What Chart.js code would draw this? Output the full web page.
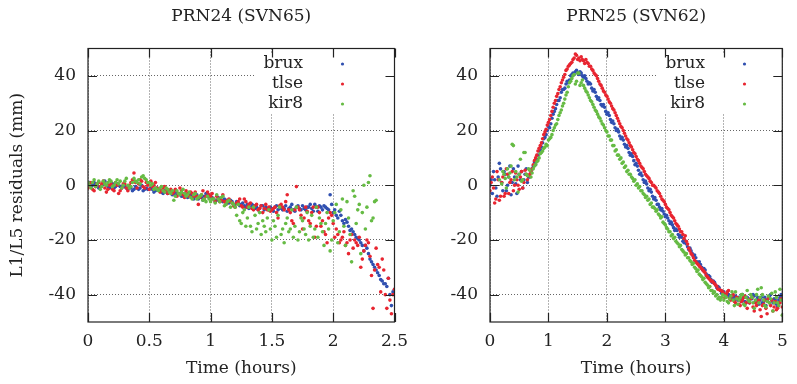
<!DOCTYPE html>
<html>
<head>
<meta charset="utf-8">
<script src="https://cdn.jsdelivr.net/npm/chart.js@4.4.0/dist/chart.umd.min.js"></script>
<style>
  body { margin: 0; background: #fff; }
  #wrap { position: relative; width: 797px; height: 384px; overflow: hidden; }
  canvas { position: absolute; top: 0; }
</style>
</head>
<body>
<div id="wrap">
  <canvas id="prn24" width="420" height="384" style="left:0"></canvas>
  <canvas id="prn25" width="397" height="384" style="left:400px"></canvas>
</div>
<script>
'use strict';

// epochs in hours
const t24 = [
  0,0.0125,0.025,0.0375,0.05,0.0625,0.075,0.0875,0.1,0.1125,
  0.125,0.1375,0.15,0.1625,0.175,0.1875,0.2,0.2125,0.225,0.2375,
  0.25,0.2625,0.275,0.2875,0.3,0.3125,0.325,0.3375,0.35,0.3625,
  0.375,0.3875,0.4,0.4125,0.425,0.4375,0.45,0.4625,0.475,0.4875,
  0.5,0.5125,0.525,0.5375,0.55,0.5625,0.575,0.5875,0.6,0.6125,
  0.625,0.6375,0.65,0.6625,0.675,0.6875,0.7,0.7125,0.725,0.7375,
  0.75,0.7625,0.775,0.7875,0.8,0.8125,0.825,0.8375,0.85,0.8625,
  0.875,0.8875,0.9,0.9125,0.925,0.9375,0.95,0.9625,0.975,0.9875,
  1,1.0125,1.025,1.0375,1.05,1.0625,1.075,1.0875,1.1,1.1125,
  1.125,1.1375,1.15,1.1625,1.175,1.1875,1.2,1.2125,1.225,1.2375,
  1.25,1.2625,1.275,1.2875,1.3,1.3125,1.325,1.3375,1.35,1.3625,
  1.375,1.3875,1.4,1.4125,1.425,1.4375,1.45,1.4625,1.475,1.4875,
  1.5,1.5125,1.525,1.5375,1.55,1.5625,1.575,1.5875,1.6,1.6125,
  1.625,1.6375,1.65,1.6625,1.675,1.6875,1.7,1.7125,1.725,1.7375,
  1.75,1.7625,1.775,1.7875,1.8,1.8125,1.825,1.8375,1.85,1.8625,
  1.875,1.8875,1.9,1.9125,1.925,1.9375,1.95,1.9625,1.975,1.9875,
  2,2.0125,2.025,2.0375,2.05,2.0625,2.075,2.0875,2.1,2.1125,
  2.125,2.1375,2.15,2.1625,2.175,2.1875,2.2,2.2125,2.225,2.2375,
  2.25,2.2625,2.275,2.2875,2.3,2.3125,2.325,2.3375,2.35,2.3625,
  2.375,2.3875,2.4,2.4125,2.425,2.4375,2.45,2.4625,2.475,2.4875,
  2.5
];

const t25 = [
  0,0.02,0.04,0.06,0.08,0.1,0.12,0.14,0.16,0.18,
  0.2,0.22,0.24,0.26,0.28,0.3,0.32,0.34,0.36,0.38,
  0.4,0.42,0.44,0.46,0.48,0.5,0.52,0.54,0.56,0.58,
  0.6,0.62,0.64,0.66,0.68,0.7,0.72,0.74,0.76,0.78,
  0.8,0.82,0.84,0.86,0.88,0.9,0.92,0.94,0.96,0.98,
  1,1.02,1.04,1.06,1.08,1.1,1.12,1.14,1.16,1.18,
  1.2,1.22,1.24,1.26,1.28,1.3,1.32,1.34,1.36,1.38,
  1.4,1.42,1.44,1.46,1.48,1.5,1.52,1.54,1.56,1.58,
  1.6,1.62,1.64,1.66,1.68,1.7,1.72,1.74,1.76,1.78,
  1.8,1.82,1.84,1.86,1.88,1.9,1.92,1.94,1.96,1.98,
  2,2.02,2.04,2.06,2.08,2.1,2.12,2.14,2.16,2.18,
  2.2,2.22,2.24,2.26,2.28,2.3,2.32,2.34,2.36,2.38,
  2.4,2.42,2.44,2.46,2.48,2.5,2.52,2.54,2.56,2.58,
  2.6,2.62,2.64,2.66,2.68,2.7,2.72,2.74,2.76,2.78,
  2.8,2.82,2.84,2.86,2.88,2.9,2.92,2.94,2.96,2.98,
  3,3.02,3.04,3.06,3.08,3.1,3.12,3.14,3.16,3.18,
  3.2,3.22,3.24,3.26,3.28,3.3,3.32,3.34,3.36,3.38,
  3.4,3.42,3.44,3.46,3.48,3.5,3.52,3.54,3.56,3.58,
  3.6,3.62,3.64,3.66,3.68,3.7,3.72,3.74,3.76,3.78,
  3.8,3.82,3.84,3.86,3.88,3.9,3.92,3.94,3.96,3.98,
  4,4.02,4.04,4.06,4.08,4.1,4.12,4.14,4.16,4.18,
  4.2,4.22,4.24,4.26,4.28,4.3,4.32,4.34,4.36,4.38,
  4.4,4.42,4.44,4.46,4.48,4.5,4.52,4.54,4.56,4.58,
  4.6,4.62,4.64,4.66,4.68,4.7,4.72,4.74,4.76,4.78,
  4.8,4.82,4.84,4.86,4.88,4.9,4.92,4.94,4.96,4.98,
  5
];

// L1/L5 residuals in mm, PRN24 (SVN65)
const brux24 = [
  0.5,1,-0.5,0,1,0.5,0,-1,-0.5,0,
  0.5,1.5,0,-0.5,-1,0,0.5,-1,-0.5,0.5,
  0,-0.5,-1,0,-0.5,-1,-1.5,-0.5,-1,-2,
  -1.5,-0.5,-1,-1.5,-1,0,-2,-1.5,-1,-1.5,
  -1.5,-1,-1.5,-2.5,-2,-1,-1.5,-2,-2.5,-3,
  -2,-2.5,-3,-2,-2.5,-3.5,-3,-2.5,-3.5,-3,
  -3,-4,-4,-3,-3.5,-4.5,-4,-3.5,-4.5,-5,
  -4,-3.5,-5,-4.5,-4.5,-5.5,-4,-3,-3,-4.5,
  -4,-4.5,-5,-6,-5.5,-4.5,-5,-5.5,-6,-5,
  -5.5,-6.5,-6.5,-5.5,-6,-7,-7,-6,-6.5,-7.5,
  -7,-6.5,-7.5,-8,-7,-8.5,-8,-7,-7.5,-8.5,
  -8,-9,-8.5,-7.5,-7.5,-9,-8,-8.5,-9,-8,
  -8.5,-9.5,-8,-7.5,-9,-8.5,-8,-9,-8.5,-7.5,
  -9.5,-8.5,-8,-7,-9,-9.5,-8,-7.5,-8.5,-9,
  -7.5,-8.5,-9,-8,-8,-7,-8.5,-9.5,-7,-8,
  -9.5,-7.5,-8,-9,-7.5,-8,-8.5,-9,-3.5,-7,
  -10,-9,-11,-12,-9.5,-11,-13,-14,-12.5,-13.5,
  -15,-16.5,-16,-17,-18,-19,-19.5,-20,-21,-22,
  -24,-22,-23,-25,-27,-28,-29,-30,-31,-32,
  -33,-34.5,-35,-36,-36,-37,-34,-40,-44,-39,
  -38
];
const tlse24 = [
  -1,0,1,-1.5,-2,-0.5,0.5,1,-0.5,0.5,
  1.5,-1,-2.5,-1.5,0,0.5,-1.5,-2,1,0,
  -3,-2,-1,0.5,0.5,-1,-2,0,1,2,
  4.5,1,-1,0.5,2,1.5,-0.5,-1,1,0,
  -1.5,1.5,-0.5,0,1,-1,-1.5,-2.5,-2,-1,
  -0.5,-2,-3,-2.5,-1.5,-3,-2.5,-1.5,-4,-3,
  -1,-2,-3.5,-4.5,-2,-3,-4,-2.5,-3,-4,
  -2.5,-4,-7,-4.5,-3.5,-2,-5,-4,-2.5,-3.5,
  -4,-3,-5,-6,-4,-5,-6,-5.5,-3.5,-6,
  -7,-5.5,-5,-6,-6.5,-7.5,-8,-6.5,-6,-5,
  -7.5,-8,-5,-6,-8,-7,-6.5,-8.5,-9,-7.5,
  -7,-9,-8.5,-7.5,-10,-8.5,-7,-9,-8,-9.5,
  -9,-8.5,-8,-10,-12,-7.5,-7,-8,-9,-6,
  -3.5,-9,-10,-13,-14,-9,-0.5,-8,-9,-11,
  -16,-12,-8,-9.5,-13,-14,-10,-8,-19,-15,
  -8,-10,-15,-13,-17,-18,-21,-12,-10,-11,
  -14,-19,-16,-18,-21,-20,-19,-17,-22,-21,
  -25,-20,-18,-23,-20,-21,-22,-19,-30,-27,
  -24,-22,-20,-21,-26,-33,-45,-31,-23,-29,
  -30,-39,-27,-31,-40,-45,-34,-42,-47,-40,
  -38
];
const kir8_24 = [
  1,0,-1,1,2,-0.5,0.5,1.5,-1.5,-0.5,
  1.5,0.5,0,1,2,1.5,-0.5,0,1,2,
  0.5,1.5,-1,0,1.5,2.5,0,-1,-0.5,1,
  2.5,1.5,1,2,0.5,3,3.5,2.5,2,1,
  1,0,0.5,-1.5,-1,-1.5,-2,-1,-0.5,-2,
  -2.5,-1,-1.5,-2.5,-3,-2,-5.5,-4,-2,-3,
  -3.5,-2.5,-1.5,-3,-4,-3.5,-2.5,-4.5,-5,-3.5,
  -3,-5,-4.5,-4,-3.5,-5.5,-5,-6,-4,-5,
  -6,-5,-5,-6.5,-3.5,-5,-6,-4.5,-4,-7.5,
  -7,-6,-5.5,-8,-6.5,-7,-8,-11,-7,-13,
  -14,-10,-9,-15,-12,-8,-15,-17,-8,-11,
  -16,-14,-10,-18,-13,-15,-17,-12,-9,-16,
  -20,-13,-15,-19,-11,-8,-18,-16,-21,-14,
  -12,-17,-16,-9,-19,-15,-8,-20,-17,-12,
  -13,-16,-18,-10,-20,-15,-11,-19,-16,-8,
  -19,-12,-14,-17,-22,-14,-10,-16,-24,-20,
  -13,-10,-7,-21,-17,-9,-5,-15,-22,-6,
  -12,-18,-28,-2,-4,-14,-9,-7,-25,-10,
  0,-16,-8,1,3.5,-13,-12,-6,-5.5,null,
  null,null,null,null,null,null,null,null,null,null,
  null
];

// L1/L5 residuals in mm, PRN25 (SVN62)
const brux25 = [
  0,2,-3,5,2,-1,-4,3,8,6,
  1,-2,5,4,-2,0,3,7,-3.5,1,
  6,3,0.5,-3,7,4,2,5,-1,2,
  4,6,1,3,3,5,6,7,8.5,7.5,
  9.5,11,12.5,13,14,15.5,17,17.5,18.5,20,
  21.5,21,22.5,24.5,26,27,28,29.5,31,31,
  32,34,35,35,35.5,37,38,37.5,38.5,40,
  40.5,41,40.5,41.5,42,41,40.5,41.5,41,40,
  39.5,40,39,38,37,37.5,37,35.5,34.5,35,
  34,32.5,31.5,32,31,29.5,29,29.5,28.5,27,
  26,26.5,25.5,24,23,23.5,22.5,21,20,20.5,
  19.5,18,17,17.5,16.5,15,14,14.5,13.5,12,
  11,11.5,10.5,9,7.5,8,7,5.5,4,4.5,
  3.5,2,1,1.5,0.5,-1,-2,-1.5,-2.5,-4,
  -5,-4.5,-5.5,-7,-7,-8,-9,-8.5,-9.5,-10.5,
  -11.5,-11,-12,-13,-14,-13.5,-14.5,-15.5,-16.5,-16,
  -16.5,-18,-19,-18.5,-19,-20.5,-21,-20.5,-21.5,-22.5,
  -23.5,-23,-24,-25,-26,-25.5,-26.5,-28,-28.5,-28,
  -29,-30,-31,-30.5,-31,-32.5,-33.5,-33,-33.5,-34.5,
  -35.5,-35,-35.5,-36.5,-37.5,-37,-37.5,-38.5,-39.5,-39,
  -39,-40,-40.5,-39.5,-40,-41,-41.5,-40.5,-41,-42,
  -40.5,-41.5,-42,-41,-41.5,-42.5,-40,-41,-42.5,-43,
  -41,-42,-43,-41.5,-41.5,-40,-40.5,-42.5,-42,-41,
  -43.5,-42,-41,-43,-42.5,-41,-44,-42,-41.5,-40.5,
  -40,-42,-43,-41.5,-42,-43.5,-44.5,-42,-41,-40,
  -40.5
];
const tlse25 = [
  -2,1,3,-1,-6.5,-5,5,2,-5.5,-4,
  1,3,-4,-3,6,4,-3,1,2,5,
  -2,0,4.5,2,0,-1.5,3,5,-1,1,
  5.5,4,2,3.5,4,5,6,7.5,9,10,
  11,12.5,13.5,14.5,15.5,17,18.5,19.5,20.5,22,
  23,24,25.5,27,28.5,30,31,32.5,33.5,35,
  36,37.5,38.5,39.5,40.5,42,42.5,43.5,44,44.5,
  45,46,46.5,48,47.5,46,46.5,45.5,47,46,
  45.5,44.5,46,45,44.5,43.5,43.5,42.5,42,41,
  40.5,40,39,38,37,36.5,35.5,34.5,34,33,
  32.5,31.5,30.5,30,29,28,27.5,26.5,25.5,24.5,
  23.5,22.5,21.5,21,20,19,18,17,16.5,15.5,
  14.5,14,13,12,11.5,10.5,9.5,9,8,7,
  6.5,6,5,4,3.5,3,2.5,1.5,1,0,
  0,-0.5,-1,-2,-2.5,-3,-4,-5,-5.5,-6,
  -7,-8,-8.5,-9,-10,-11,-11.5,-12,-13,-14,
  -14.5,-15,-16,-17,-17,-18,-19.5,-18.5,-20.5,-21.5,
  -23,-24,-25,-25.5,-26.5,-27.5,-28,-28.5,-29,-29.5,
  -30,-30.5,-31,-31.5,-32,-33,-33.5,-34,-34.5,-35,
  -35,-35.5,-36,-36.5,-37,-38,-38,-38.5,-38.5,-39,
  -39.5,-41,-40,-39,-38.5,-41.5,-42,-40.5,-40,-42.5,
  -43,-41,-41.5,-43.5,-44,-42.5,-42,-41,-40.5,-43,
  -45,-42,-43,-41.5,-41,-44.5,-46,-43,-44,-42.5,
  -42,-45.5,-48,-44,-43.5,-42,-45,-47,-41.5,-43,
  -44,-42,-46,-44.5,-42.5,-45.5,-45,-43,-43,-41.5,
  -44.5
];
const kir8_25 = [
  null,null,null,null,null,null,null,null,2,null,
  0.5,5,4,2.5,-1,6,3,4.5,7,15,
  14.5,2,5,3,-2.5,4,9.5,1.5,2,12,
  12,4,3.5,6,5.5,3,4.5,6,7,7.5,
  8.5,9,10,11.5,12,12.5,13.5,14,15,14.5,
  16.5,17,17.5,18.5,20,21,22,22.5,24,25.5,
  26.5,27.5,29,30,31.5,33,34,36,37.5,38,
  39,40,40.5,37,38,41,41,36.5,37.5,38.5,
  36.5,35.5,34.5,34,33,32,31,30.5,29.5,28.5,
  27.5,27,26,25,24.5,23.5,22.5,22,21,20,
  19.5,18,18,16.5,16.5,14.5,14.5,12.5,13,11,
  11,9.5,10,8,8.5,6.5,7,5,5.5,4,
  4,3,2.5,1.5,2,0,0.5,-1,-0.5,-2,
  -2,-3,-3.5,-4.5,-4,-5.5,-5,-7,-6.5,-8,
  -8,-8.5,-9.5,-9,-10.5,-11,-12,-11.5,-13.5,-14,
  -14.5,-15.5,-16,-17,-17,-18.5,-18,-19.5,-19,-20.5,
  -21,-21.5,-22.5,-22,-23.5,-24,-24.5,-25.5,-25,-26.5,
  -26.5,-27.5,-28,-29,-28.5,-30,-30.5,-31.5,-31,-32.5,
  -33,-33.5,-34.5,-34,-35.5,-36,-36.5,-37.5,-37,-38.5,
  -38.5,-39.5,-39,-40.5,-40,-41.5,-41,-42,-41,-40,
  -42,-40.5,-41,-42.5,-43,-41.5,-40.5,-39,-42,-44,
  -39,-41.5,-43.5,-42,-41,-40,-40,-43.5,-44,-41,
  -38.5,-42,-42.5,-40,-41,-43,-45,-42,-40,-38,
  -43,-41,-37.5,-40,-42,-44,-44.5,-42.5,-40.5,-43,
  -41.5,-39.5,-46,-43,-39,-41,-43,-44,-38,-42,
  -47.5
];

const stations = ['brux', 'tlse', 'kir8'];
const stationColors = ['#3050b0', '#e82530', '#66bb44'];
const yTicks = [-40, -20, 0, 20, 40];

const FAMILY = "'DejaVu Serif', serif";
const INK = '#222';

function toPoints(times, values) {
  const pts = [];
  times.forEach((t, i) => {
    if (values[i] !== null) {
      pts.push({ x: t, y: values[i] });
    }
  });
  return pts;
}

// solid box round the plot plus short inward tics on all four sides
const framePlugin = {
  id: 'frame',
  afterDraw(chart) {
    const { ctx, chartArea: a, scales } = chart;
    const len = 9;
    ctx.save();
    ctx.strokeStyle = INK;
    ctx.lineWidth = 1.2;
    ctx.strokeRect(a.left, a.top, a.right - a.left, a.bottom - a.top);
    ctx.beginPath();
    scales.x.ticks.forEach(tk => {
      const px = Math.round(scales.x.getPixelForValue(tk.value)) + 0.5;
      ctx.moveTo(px, a.bottom); ctx.lineTo(px, a.bottom - len);
      ctx.moveTo(px, a.top); ctx.lineTo(px, a.top + len);
    });
    scales.y.ticks.forEach(tk => {
      const py = Math.round(scales.y.getPixelForValue(tk.value)) + 0.5;
      ctx.moveTo(a.left, py); ctx.lineTo(a.left + len, py);
      ctx.moveTo(a.right, py); ctx.lineTo(a.right - len, py);
    });
    ctx.stroke();
    ctx.restore();
  }
};

// gnuplot style key: label right aligned, sample dot to its right
const keyPlugin = {
  id: 'keyBox',
  afterDatasetsDraw(chart) {
    const { ctx, chartArea: a } = chart;
    ctx.save();
    ctx.fillStyle = '#fff';
    ctx.fillRect(a.left + 167, a.top + 4.5, a.right - a.left - 167, 60);
    ctx.font = '17px ' + FAMILY;
    ctx.textAlign = 'right';
    ctx.textBaseline = 'middle';
    chart.data.datasets.forEach((ds, i) => {
      const y = a.top + 15.5 + i * 20;
      ctx.fillStyle = INK;
      ctx.fillText(ds.label, a.left + 215, y);
      ctx.fillStyle = ds.backgroundColor;
      ctx.beginPath();
      ctx.arc(a.left + 254.5, y, 1.6, 0, Math.PI * 2);
      ctx.fill();
    });
    ctx.restore();
  }
};

function residualChart(canvasId, opts) {
  const font = { family: FAMILY, size: 17, weight: 'normal' };
  const gridStyle = { color: 'rgba(0,0,0,0.6)', lineWidth: 1, drawTicks: false };
  const borderStyle = { display: false, dash: [1, 2] };

  const datasets = opts.series.map((vals, i) => ({
    label: stations[i],
    data: toPoints(opts.times, vals),
    backgroundColor: stationColors[i],
    borderWidth: 0,
    pointRadius: opts.dot,
    order: 3 - i
  }));

  return new Chart(document.getElementById(canvasId), {
    type: 'scatter',
    data: { datasets },
    options: {
      responsive: false,
      animation: false,
      devicePixelRatio: 1,
      layout: {
        autoPadding: false,
        padding: { left: 0, right: opts.padRight, top: 0, bottom: 0 }
      },
      plugins: {
        legend: { display: false },
        tooltip: { enabled: false },
        title: {
          display: true,
          text: opts.title,
          fullSize: false,
          color: INK,
          font,
          padding: { top: 6.4, bottom: 21.7 }
        }
      },
      scales: {
        x: {
          type: 'linear',
          min: 0,
          max: opts.xMax,
          ticks: {
            stepSize: opts.xStep,
            autoSkip: false,
            maxRotation: 0,
            padding: 9.3,
            color: INK,
            font,
            callback: v => String(v)
          },
          grid: gridStyle,
          border: borderStyle,
          title: {
            display: true,
            text: 'Time (hours)',
            color: INK,
            font,
            padding: { top: 0, bottom: 5.3 }
          },
          afterFit: s => { s.height = 62; }
        },
        y: {
          type: 'linear',
          min: -50,
          max: 50,
          afterBuildTicks: s => { s.ticks = yTicks.map(v => ({ value: v })); },
          ticks: {
            padding: 12,
            color: INK,
            font,
            callback: v => String(v)
          },
          grid: gridStyle,
          border: borderStyle,
          title: {
            display: opts.yTitle,
            text: 'L1/L5 residuals (mm)',
            color: INK,
            font,
            padding: { top: 7.3, bottom: 0 }
          },
          afterFit: s => { s.width = opts.yWidth; }
        }
      }
    },
    plugins: [keyPlugin, framePlugin]
  });
}

residualChart('prn24', {
  title: 'PRN24 (SVN65)',
  times: t24,
  series: [brux24, tlse24, kir8_24],
  xMax: 2.5,
  xStep: 0.5,
  yTitle: true,
  yWidth: 88,
  padRight: 25.5,
  dot: 1.8
});

residualChart('prn25', {
  title: 'PRN25 (SVN62)',
  times: t25,
  series: [brux25, tlse25, kir8_25],
  xMax: 5,
  xStep: 1,
  yTitle: false,
  yWidth: 90,
  padRight: 0.5,
  dot: 1.8
});
</script>
</body>
</html>
